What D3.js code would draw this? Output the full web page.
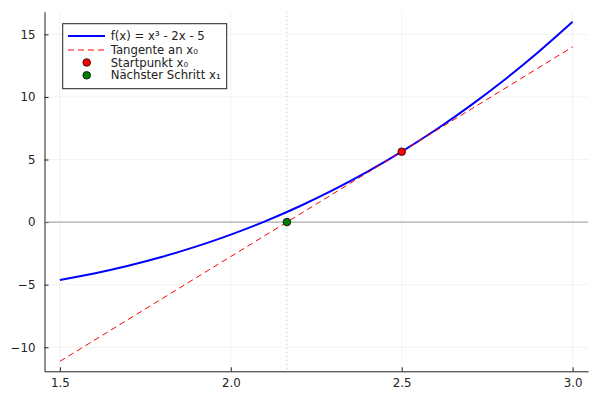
<!DOCTYPE html>
<html><head><meta charset="utf-8">
<script src="https://cdn.jsdelivr.net/npm/d3@7"></script>
<style>body{margin:0;background:#fff}svg text{font-family:"DejaVu Sans",sans-serif}</style>
</head><body><svg id="c" width="600" height="400"></svg>
<script>
// Curve samples f(x) = x³ - 2x - 5
const curveX = [1.5,1.6,1.7,1.8,1.9,2.0,2.1,2.2,2.3,2.4,2.5,2.6,2.7,2.8,2.9,3.0];
const curveY = [-4.625,-4.104,-3.487,-2.768,-1.941,-1.0,0.061,1.248,2.567,4.024,5.625,7.376,9.283,11.352,13.589,16.0];
// Tangent line endpoints
const tangentX = [1.5, 3.0];
const tangentY = [-11.125, 14.0];
// Points
const startPoint = [2.5, 5.625];
const nextPoint = [2.1642, 0];
const xTicks = [1.5, 2.0, 2.5, 3.0];
const yTicks = [-10, -5, 0, 5, 10, 15];
const legendLabels = ["f(x) = x³ - 2x - 5", "Tangente an x₀", "Startpunkt x₀", "Nächster Schritt x₁"];

const svg = d3.select("#c");
const L = 44.5, R = 588, T = 11.7, B = 371.3;
const x = d3.scaleLinear().domain([1.455, 3.045]).range([L, R]);
const y = d3.scaleLinear().domain([-11.92, 16.81]).range([B, T]);

// grid
const g = svg.append("g");
g.selectAll(".gx").data(xTicks).enter().append("line")
  .attr("x1", d => x(d)).attr("x2", d => x(d)).attr("y1", T).attr("y2", B)
  .attr("stroke", "#000").attr("stroke-opacity", 0.1).attr("stroke-width", 0.5);
g.selectAll(".gy").data(yTicks).enter().append("line")
  .attr("y1", d => y(d)).attr("y2", d => y(d)).attr("x1", L).attr("x2", R)
  .attr("stroke", "#000").attr("stroke-opacity", 0.1).attr("stroke-width", 0.5);

// axes
const xa = svg.append("g").attr("transform", `translate(0,${B})`)
  .call(d3.axisBottom(x).tickValues(xTicks).tickFormat(d3.format(".1f")).tickSizeInner(-4).tickSizeOuter(0).tickPadding(7));
const ya = svg.append("g").attr("transform", `translate(${L},0)`)
  .call(d3.axisLeft(y).tickValues(yTicks).tickFormat(d => d < 0 ? "−" + Math.abs(d) : d).tickSizeInner(-4).tickSizeOuter(0).tickPadding(9));
[xa, ya].forEach(a => {
  a.select(".domain").attr("stroke", "#222").attr("stroke-width", 1);
  a.selectAll(".tick line").attr("stroke", "#222");
  a.selectAll(".tick text").attr("font-size", 11.8).attr("fill", "#222").attr("font-family", "DejaVu Sans");
});
xa.selectAll(".tick text").attr("dy", "0.71em");

// clip
svg.append("clipPath").attr("id", "clip").append("rect").attr("x", L).attr("y", T).attr("width", R - L).attr("height", B - T);
const p = svg.append("g").attr("clip-path", "url(#clip)");

// horizontal zero line
p.append("line").attr("x1", L).attr("x2", R).attr("y1", y(0)).attr("y2", y(0))
  .attr("stroke", "#999").attr("stroke-width", 1);
// vertical dotted line at x1
p.append("line").attr("x1", x(nextPoint[0])).attr("x2", x(nextPoint[0])).attr("y1", T).attr("y2", B)
  .attr("stroke", "green").attr("stroke-opacity", 0.3).attr("stroke-width", 1).attr("stroke-dasharray", "1.5,2.5");

const line = d3.line().x(d => x(d[0])).y(d => y(d[1]));
p.append("path").datum(curveX.map((v, i) => [v, curveY[i]]))
  .attr("d", line.curve(d3.curveCatmullRom)).attr("fill", "none").attr("stroke", "blue").attr("stroke-width", 2);
p.append("path").datum(tangentX.map((v, i) => [v, tangentY[i]]))
  .attr("d", d3.line().x(d => x(d[0])).y(d => y(d[1]))).attr("fill", "none").attr("stroke", "red").attr("stroke-width", 1).attr("stroke-dasharray", "6,4");

p.append("circle").attr("cx", x(startPoint[0])).attr("cy", y(startPoint[1])).attr("r", 3.8)
  .attr("fill", "red").attr("stroke", "#000").attr("stroke-width", 0.8);
p.append("circle").attr("cx", x(nextPoint[0])).attr("cy", y(nextPoint[1])).attr("r", 3.8)
  .attr("fill", "green").attr("stroke", "#000").attr("stroke-width", 0.8);

// legend
const lg = svg.append("g");
lg.append("rect").attr("x", 62.7).attr("y", 23.7).attr("width", 164).attr("height", 65)
  .attr("fill", "#fff").attr("stroke", "#222").attr("stroke-width", 1);
const rowsY = [36, 50, 62.5, 75.3];
lg.append("line").attr("x1", 68).attr("x2", 105).attr("y1", rowsY[0]).attr("y2", rowsY[0]).attr("stroke", "blue").attr("stroke-width", 2);
lg.append("line").attr("x1", 68).attr("x2", 105).attr("y1", rowsY[1]).attr("y2", rowsY[1]).attr("stroke", "#ff0000").attr("stroke-width", 1.2).attr("stroke-dasharray", "6,4");
lg.append("circle").attr("cx", 86.7).attr("cy", rowsY[2]).attr("r", 3.8).attr("fill", "red").attr("stroke", "#000").attr("stroke-width", 0.8);
lg.append("circle").attr("cx", 86.7).attr("cy", rowsY[3]).attr("r", 3.8).attr("fill", "green").attr("stroke", "#000").attr("stroke-width", 0.8);
lg.selectAll("text.l").data(legendLabels).enter().append("text")
  .attr("x", 110.7).attr("y", (d, i) => rowsY[i]).attr("dy", "0.35em")
  .attr("font-size", 11.7).attr("fill", "#222").text(d => d);
</script></body></html>
